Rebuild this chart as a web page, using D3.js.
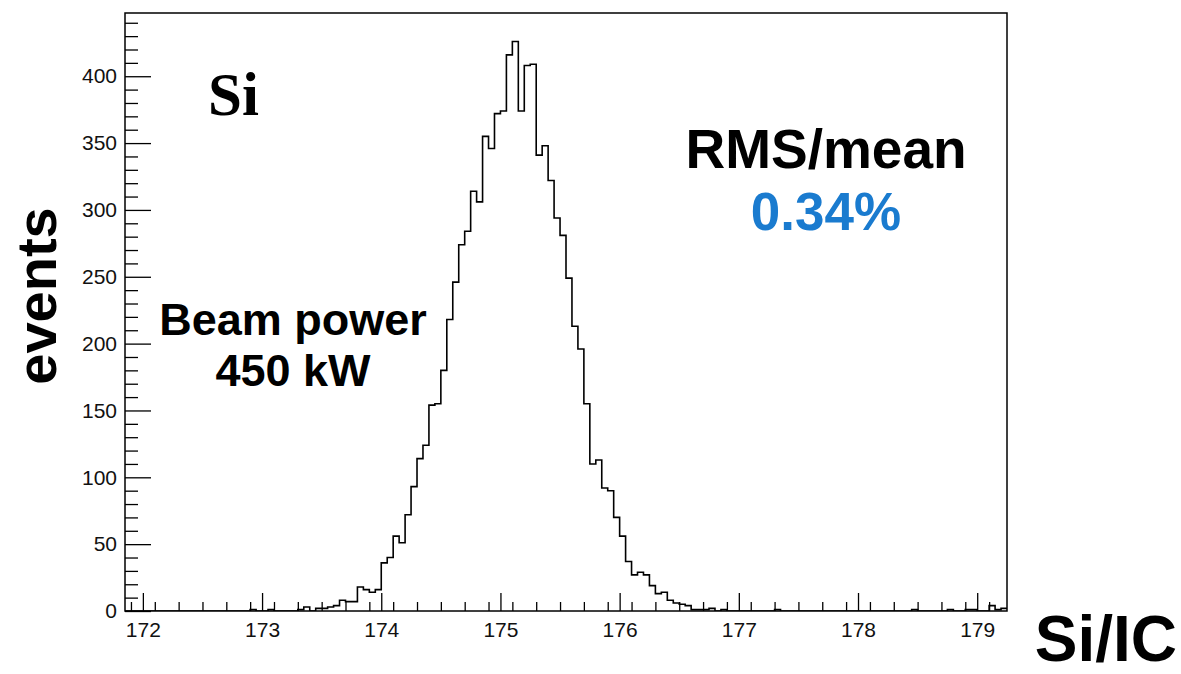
<!DOCTYPE html>
<html>
<head>
<meta charset="utf-8">
<script src="https://cdn.jsdelivr.net/npm/d3@7"></script>
<style>
  body { margin: 0; background: #fff; }
  svg { display: block; font-family: "Liberation Sans", Arial, sans-serif; }
</style>
</head>
<body>
<svg id="chart"></svg>
<script>
// histogram: 148 bins of 0.05 starting at 171.85
const binLow = 171.85;
const binWidth = 0.05;
const counts = [
    0, 0, 0, 0, 0, 0, 0, 0, 0, 0,
    0, 0, 0, 0, 0, 0, 0, 0, 0, 0,
    0, 1, 0, 0, 1, 0, 0, 0, 0, 1,
    3, 0, 2, 2, 3, 4, 8, 7, 7, 18,
    16, 14, 16, 36, 40, 56, 51, 72, 93, 114,
    124, 154, 155, 180, 218, 246, 274, 284, 314, 306,
    355, 346, 372, 374, 416, 426, 374, 408, 409, 341,
    348, 322, 294, 281, 249, 213, 196, 155, 110, 113,
    92, 90, 70, 56, 37, 27, 29, 27, 19, 13,
    14, 8, 6, 5, 4, 1, 1, 1, 2, 0,
    1, 0, 0, 0, 0, 0, 0, 0, 0, 1,
    0, 0, 0, 0, 0, 0, 0, 0, 0, 0,
    0, 0, 0, 0, 0, 0, 0, 0, 0, 0,
    0, 0, 1, 0, 0, 0, 0, 0, 1, 0,
    0, 1, 1, 0, 0, 4, 1, 2
];
const xMajor = [172, 173, 174, 175, 176, 177, 178, 179];
const yMajor = [0, 50, 100, 150, 200, 250, 300, 350, 400];

let margin = {top: 13, right: 174, bottom: 63, left: 125},
    width = 1181 - margin.left - margin.right,
    height = 674 - margin.top - margin.bottom;

const svg = d3.select("#chart")
    .attr("width", 1181)
    .attr("height", 674);

const g = svg.append("g").attr("transform", `translate(${margin.left},${margin.top})`);

const x = d3.scaleLinear()
    .domain([binLow, binLow + counts.length * binWidth])
    .range([0, width]);

const y = d3.scaleLinear()
    .domain([0, d3.max(counts) * 1.05])
    .range([height, 0]);

// minor ticks
const xMinor = d3.range(171.9, 179.25, 0.2).filter(v => !xMajor.some(m => Math.abs(m - v) < 1e-6));
const yMinor = d3.range(10, y.domain()[1], 10).filter(v => v % 50 !== 0);

g.append("g")
    .attr("transform", `translate(0,${height})`)
    .call(d3.axisBottom(x).tickValues(xMinor).tickSize(-9).tickSizeOuter(0).tickFormat(""))
    .call(a => a.select(".domain").remove());

g.append("g")
    .attr("transform", `translate(0,${height})`)
    .call(d3.axisBottom(x).tickValues(xMajor).tickSize(-18).tickSizeOuter(0).tickPadding(11).tickFormat(d3.format("d")))
    .call(a => a.select(".domain").remove())
    .call(a => a.selectAll("text").style("font-size", "21px").attr("fill", "#111"));

g.append("g")
    .call(d3.axisLeft(y).tickValues(yMinor).tickSize(-13).tickSizeOuter(0).tickFormat(""))
    .call(a => a.select(".domain").remove());

g.append("g")
    .call(d3.axisLeft(y).tickValues(yMajor).tickSize(-26).tickSizeOuter(0).tickPadding(8))
    .call(a => a.select(".domain").remove())
    .call(a => a.selectAll("text").style("font-size", "21px").attr("fill", "#111"));

g.selectAll(".tick line").attr("stroke", "#000").attr("stroke-width", 1.3);

// histogram outline
const pts = counts.map((c, i) => [binLow + i * binWidth, c]);
pts.push([binLow + counts.length * binWidth, counts[counts.length - 1]]);

g.append("clipPath").attr("id", "clip")
    .append("rect").attr("width", width).attr("height", height);

g.append("path")
    .datum(pts)
    .attr("clip-path", "url(#clip)")
    .attr("fill", "none")
    .attr("stroke", "#000")
    .attr("stroke-width", 1.6)
    .attr("d", d3.line().x(d => x(d[0])).y(d => y(d[1])).curve(d3.curveStepAfter));

// frame
g.append("rect")
    .attr("width", width)
    .attr("height", height)
    .attr("fill", "none")
    .attr("stroke", "#000")
    .attr("stroke-width", 1.5);

// annotations
svg.append("text")
    .attr("x", 208).attr("y", 115)
    .style("font-family", "'Liberation Serif', 'Times New Roman', serif")
    .style("font-weight", "bold")
    .style("font-size", "61px")
    .text("Si");

svg.append("text")
    .attr("x", 826).attr("y", 168)
    .style("text-anchor", "middle")
    .style("font-weight", "bold")
    .style("font-size", "55px")
    .text("RMS/mean");

svg.append("text")
    .attr("x", 826).attr("y", 230)
    .style("text-anchor", "middle")
    .style("font-weight", "bold")
    .style("font-size", "53px")
    .attr("fill", "#1a7bcf")
    .text("0.34%");

svg.append("text")
    .attr("x", 293).attr("y", 335)
    .style("text-anchor", "middle")
    .style("font-weight", "bold")
    .style("font-size", "45px")
    .text("Beam power");

svg.append("text")
    .attr("x", 293).attr("y", 386)
    .style("text-anchor", "middle")
    .style("font-weight", "bold")
    .style("font-size", "45px")
    .text("450 kW");

svg.append("text")
    .attr("transform", "translate(56,296) rotate(-90)")
    .style("text-anchor", "middle")
    .style("font-weight", "bold")
    .style("font-size", "56px")
    .text("events");

svg.append("text")
    .attr("x", 1177).attr("y", 661)
    .style("text-anchor", "end")
    .style("font-weight", "bold")
    .style("font-size", "64px")
    .text("Si/IC");
</script>
</body>
</html>
